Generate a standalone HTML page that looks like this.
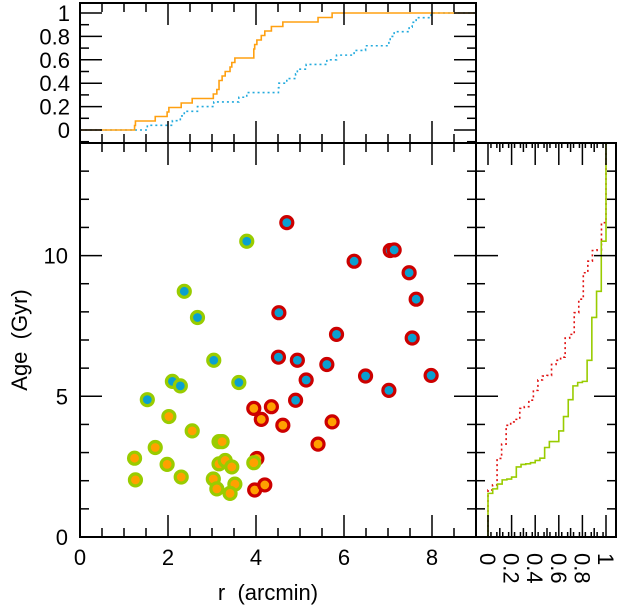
<!DOCTYPE html>
<html><head><meta charset="utf-8"><style>
html,body{margin:0;padding:0;background:#fff;}
svg{display:block;font-family:"Liberation Sans",sans-serif;}
text{white-space:pre;}
</style></head><body>
<svg id="fig" width="619" height="606" viewBox="0 0 619 606" xmlns="http://www.w3.org/2000/svg">
<g id="marks"></g>
<g id="axes"></g>
</svg>
<script>
// Green-ring points (blue centre)
const greenBlueR = [3.79,2.37,2.67,3.04,2.10,2.28,3.61,1.53];
const greenBlueAge = [10.51,8.73,7.80,6.28,5.53,5.37,5.49,4.88];
// Green-ring points (orange centre)
const greenOrangeR = [2.02,2.55,1.71,1.24,1.98,1.26,2.30,3.16,3.23,3.16,3.30,3.45,3.03,3.11,3.52,3.41,3.95];
const greenOrangeAge = [4.28,3.77,3.18,2.80,2.58,2.03,2.13,3.39,3.39,2.60,2.72,2.49,2.06,1.71,1.88,1.55,2.64];
// Red-ring points (blue centre)
const redBlueR = [4.70,6.23,7.05,7.14,7.48,7.64,4.52,5.83,7.55,4.51,4.94,5.61,5.14,6.49,7.98,7.02,4.90];
const redBlueAge = [11.17,9.80,10.18,10.20,9.39,8.45,7.97,7.20,7.07,6.39,6.28,6.13,5.58,5.72,5.74,5.21,4.86];
// Red-ring points (orange centre)
const redOrangeR = [3.95,4.35,4.12,4.61,5.73,5.41,4.02,3.97,4.20];
const redOrangeAge = [4.57,4.63,4.18,3.97,4.09,3.30,2.79,1.67,1.85];

const xTicksMain = [0,2,4,6,8];
const yTicksMain = [0,5,10];
const cdfTicks = [0,0.2,0.4,0.6,0.8,1];
const cdfLabels = ["0","0.2","0.4","0.6","0.8","1"];

const NS="http://www.w3.org/2000/svg";
const L=80,R=476,T=143,B=537;
const xs=v=>L+v*(R-L)/9;
const ys=v=>B-v*(B-T)/14;
const TT=3,TB=143;
const tys=v=>130-v*117;
const RR=616;
const rxs=v=>488+v*118;

const marks=document.getElementById('marks');
const axes=document.getElementById('axes');
function mk(tag,attrs,parent){const e=document.createElementNS(NS,tag);for(const k in attrs)e.setAttribute(k,attrs[k]);(parent||axes).appendChild(e);return e;}

function cdfPts(vals){const s=vals.slice().sort((a,b)=>a-b);const n=s.length;return s.map((v,i)=>[v,(i+1)/n]);}
function topPath(vals){const p=cdfPts(vals);let d=`M${xs(0)},${tys(0)}`;let prev=0;p.forEach(([v,f])=>{d+=` L${xs(v)},${tys(prev)} L${xs(v)},${tys(f)}`;prev=f;});d+=` L${xs(9)},${tys(1)}`;return d;}
function rightPath(vals){const p=cdfPts(vals);let d=`M${rxs(0)},${ys(0)}`;let prev=0;p.forEach(([v,f])=>{d+=` L${rxs(prev)},${ys(v)} L${rxs(f)},${ys(v)}`;prev=f;});d+=` L${rxs(1)},${ys(14)}`;return d;}

const blueR=greenBlueR.concat(redBlueR), orangeR=greenOrangeR.concat(redOrangeR);
const greenAge=greenBlueAge.concat(greenOrangeAge), redAge=redBlueAge.concat(redOrangeAge);
let e;
e=mk('path',{d:topPath(blueR),fill:'none',stroke:'#22aadd','stroke-width':1.6,'stroke-dasharray':'2,3'},marks);


e=mk('path',{d:topPath(orangeR),fill:'none',stroke:'#ffa010','stroke-width':1.6},marks);


e=mk('path',{d:rightPath(redAge),fill:'none',stroke:'#e01010','stroke-width':1.6,'stroke-dasharray':'2,3'},marks);


e=mk('path',{d:rightPath(greenAge),fill:'none',stroke:'#99cc00','stroke-width':1.6},marks);



function pts(rs,ages,ring,core,name){rs.forEach((r,i)=>{const g=mk('g',{},marks);


mk('circle',{cx:xs(r),cy:ys(ages[i]),r:6,fill:core,stroke:ring,'stroke-width':3.2},g);});}
pts(redBlueR,redBlueAge,'#cc0000','#0aa0d0','red-blue-point');
pts(redOrangeR,redOrangeAge,'#cc0000','#ffa000','red-orange-point');
pts(greenBlueR,greenBlueAge,'#99cc00','#0aa0d0','green-blue-point');
pts(greenOrangeR,greenOrangeAge,'#99cc00','#ffa000','green-orange-point');

const sw={stroke:'#000','stroke-width':2,fill:'none'};
mk('rect',{x:L,y:T,width:R-L,height:B-T,...sw});
mk('rect',{x:L,y:TT,width:R-L,height:TB-TT,...sw});
mk('rect',{x:R,y:T,width:RR-R,height:B-T,...sw});
const tk={stroke:'#000','stroke-width':1.5};
for(let v=0;v<=9.001;v+=0.5){const maj=Math.abs(v%2)<1e-6;const len=maj?22:9;const x=xs(v);
mk('line',{x1:x,y1:B,x2:x,y2:B-len,...tk});mk('line',{x1:x,y1:T,x2:x,y2:T+len,...tk});
mk('line',{x1:x,y1:TT,x2:x,y2:TT+len,...tk});mk('line',{x1:x,y1:TB,x2:x,y2:TB-len,...tk});}
for(let v=1;v<14;v++){const len=v%5==0?22:9;const y=ys(v);
mk('line',{x1:L,y1:y,x2:L+len,y2:y,...tk});mk('line',{x1:R,y1:y,x2:R-len,y2:y,...tk});
mk('line',{x1:R,y1:y,x2:R+len,y2:y,...tk});mk('line',{x1:RR,y1:y,x2:RR-len,y2:y,...tk});}
for(let i=-1;i<=10;i++){const v=i/10;const len=i%2==0?22:9;const y=tys(v);if(y<TT||y>TB)continue;
mk('line',{x1:L,y1:y,x2:L+len,y2:y,...tk});mk('line',{x1:R,y1:y,x2:R-len,y2:y,...tk});}
for(let i=-1;i<=10;i++){const v=i/10;const x=rxs(v);if(x<R||x>RR)continue;const len=i%2==0?22:9;
mk('line',{x1:x,y1:B,x2:x,y2:B-len,...tk});mk('line',{x1:x,y1:T,x2:x,y2:T+len,...tk});}
for(let i=0;i<20;i++){const x=rxs((i*0.05)+0.025);if(x<R||x>RR)continue;
mk('line',{x1:x,y1:B,x2:x,y2:B-5,...tk});mk('line',{x1:x,y1:T,x2:x,y2:T+5,...tk});}

const fs=22;
xTicksMain.forEach(v=>{e=mk('text',{x:xs(v),y:B+28,'text-anchor':'middle','font-size':fs});e.textContent=v;

});
yTicksMain.forEach(v=>{e=mk('text',{x:L-12,y:ys(v)+8,'text-anchor':'end','font-size':fs});e.textContent=v;

});
cdfTicks.forEach((v,i)=>{e=mk('text',{x:L-10,y:tys(v)+8,'text-anchor':'end','font-size':fs});e.textContent=cdfLabels[i];


const x=rxs(v);e=mk('text',{x:0,y:0,'text-anchor':'start','font-size':fs,transform:`translate(${x-8},${B+16}) rotate(90)`});e.textContent=cdfLabels[i];

});
e=mk('text',{x:(L+432)/2+12,y:600,'text-anchor':'middle','font-size':fs});e.textContent='r  (arcmin)';


e=mk('text',{x:0,y:0,'text-anchor':'middle','font-size':fs,transform:`translate(27,${ys(7)}) rotate(-90)`});e.textContent='Age  (Gyr)';


</script>
</body></html>
